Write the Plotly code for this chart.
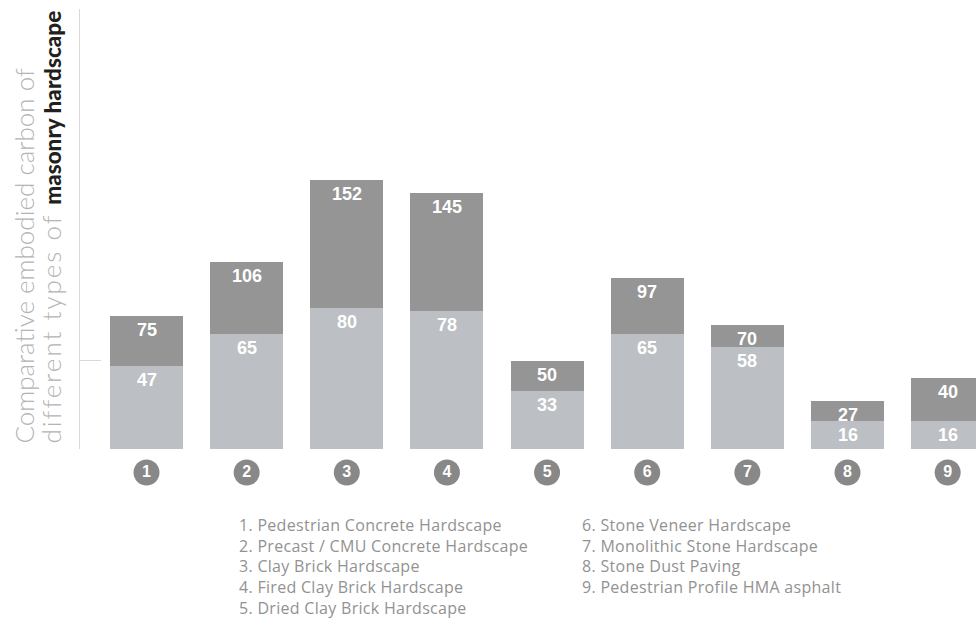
import plotly.graph_objects as go

# ---- data ----
categories = [1, 2, 3, 4, 5, 6, 7, 8, 9]
category_labels = ["1", "2", "3", "4", "5", "6", "7", "8", "9"]
total_values = [75, 106, 152, 145, 50, 97, 70, 27, 40]
lower_values = [47, 65, 80, 78, 33, 65, 58, 16, 16]
legend_names = [
    "1. Pedestrian Concrete Hardscape",
    "2. Precast / CMU Concrete Hardscape",
    "3. Clay Brick Hardscape",
    "4. Fired Clay Brick Hardscape",
    "5. Dried Clay Brick Hardscape",
    "6. Stone Veneer Hardscape",
    "7. Monolithic Stone Hardscape",
    "8. Stone Dust Paving",
    "9. Pedestrian Profile HMA asphalt",
]
title_line1 = "Comparative embodied carbon of"
title_line2_light = "different types of "
title_line2_bold = "masonry hardscape"
y_tick_values = [50]

# ---- styles ----
DARK = "#959595"
LIGHT = "#bcbfc3"
CIRCLE = "#888888"
AXIS = "#d9d9d9"
LEGEND_TXT = "#929292"
TITLE_LIGHT = "#b4b4b4"
TITLE_DARK = "#231f20"
FONT = "Lato"
LEGEND_FONT = "Open Sans"
LABEL_FONT = "Liberation Sans"

W, H = 976, 619
ML, MR, MT = 80, 0, 9
PAPER_BOTTOM = 500          # pixel row of paper bottom
BASE = 449                  # pixel row of bar baseline
MB = H - PAPER_BOTTOM
PW = W - ML - MR
PPH = PAPER_BOTTOM - MT     # paper height in px
D0 = (PAPER_BOTTOM - BASE) / PPH
Y_MAX = 249


def px_to_paper_x(px):
    return (px - ML) / PW


def px_to_paper_y(py):
    return (PAPER_BOTTOM - py) / PPH


fig = go.Figure()

fig.add_trace(go.Bar(
    x=categories, y=total_values, width=0.729,
    marker=dict(color=DARK, line=dict(width=0)),
    hoverinfo="skip", showlegend=False,
))
fig.add_trace(go.Bar(
    x=categories, y=lower_values, width=0.729,
    marker=dict(color=LIGHT, line=dict(width=0)),
    hoverinfo="skip", showlegend=False,
))

# numbered circles below bars (on a thin secondary y axis under the plot)
fig.add_trace(go.Scatter(
    x=categories, y=[0.55] * len(categories), yaxis="y2",
    mode="markers+text",
    marker=dict(size=26, color=CIRCLE, line=dict(width=0)),
    text=category_labels, textposition="middle center",
    textfont=dict(family=LABEL_FONT, size=16, color="white", weight="bold"),
    cliponaxis=False, hoverinfo="skip", showlegend=False,
))

annotations = []
# value labels
for xv, tv, lv in zip(categories, total_values, lower_values):
    for v in (tv, lv):
        annotations.append(dict(
            x=xv, y=v, xref="x", yref="y", text=f"<b>{v}</b>",
            showarrow=False, yanchor="top", xanchor="center", yshift=-2,
            font=dict(family=LABEL_FONT, size=18, color="white"),
        ))

# rotated axis title (two lines)
annotations.append(dict(
    x=px_to_paper_x(23), y=px_to_paper_y(BASE), xref="paper", yref="paper",
    text=title_line1, showarrow=False, textangle=-90,
    xanchor="center", yanchor="bottom", yshift=3,
    font=dict(family=FONT, size=26, color=TITLE_LIGHT, weight=300),
))
annotations.append(dict(
    x=px_to_paper_x(50), y=px_to_paper_y(BASE), xref="paper", yref="paper",
    text=("<span style='letter-spacing:2px'>%s</span>" % title_line2_light)
    + "<span style='color:%s;font-weight:900;font-size:22.5px'>%s</span>" % (TITLE_DARK, title_line2_bold),
    showarrow=False, textangle=-90,
    xanchor="center", yanchor="bottom", yshift=3,
    font=dict(family=FONT, size=26, color=TITLE_LIGHT, weight=300),
))

# legend text
col_x = [237, 580]
row_y0, row_dy = 525, 20.7
for i, name in enumerate(legend_names):
    col = 0 if i < 5 else 1
    row = i if i < 5 else i - 5
    annotations.append(dict(
        x=px_to_paper_x(col_x[col]), y=px_to_paper_y(row_y0 + row * row_dy),
        xref="paper", yref="paper",
        text="<span style='letter-spacing:0.3px'>%s</span>" % name,
        showarrow=False, xanchor="left", yanchor="middle",
        font=dict(family=LEGEND_FONT, size=16, color=LEGEND_TXT),
    ))

fig.update_layout(
    width=W, height=H,
    margin=dict(l=ML, r=MR, t=MT, b=MB, pad=0),
    paper_bgcolor="white", plot_bgcolor="white",
    barmode="overlay", bargap=0,
    annotations=annotations,
    xaxis=dict(range=[0.336, 9.283], visible=False, fixedrange=True),
    yaxis=dict(
        domain=[D0, 1], range=[0, Y_MAX], showgrid=False, zeroline=False,
        showline=True, linecolor=AXIS, linewidth=1,
        ticks="inside", tickvals=y_tick_values, ticklen=21, tickcolor=AXIS, tickwidth=1,
        showticklabels=False, fixedrange=True,
    ),
    yaxis2=dict(
        domain=[0, D0 * 0.98], range=[0, 1], anchor="x",
        visible=False, fixedrange=True,
    ),
)

fig.write_html("out.html")
